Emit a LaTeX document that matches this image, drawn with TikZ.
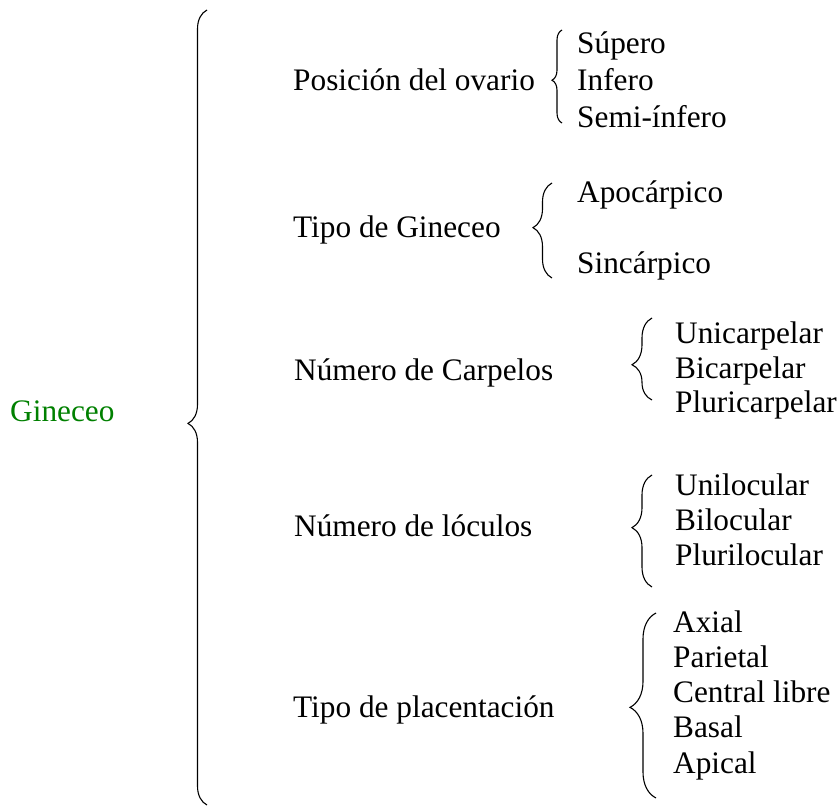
\documentclass[tikz,border=0pt]{standalone}
\usepackage{fontspec}
\setmainfont{Liberation Serif}
\usetikzlibrary{decorations.pathreplacing}
\definecolor{ginegreen}{RGB}{0,128,0}

\begin{document}
\begin{tikzpicture}[x=1pt,y=-1pt,font=\fontsize{31.3}{36}\selectfont,
  item/.style={anchor=base west,inner sep=0pt},
  brc/.style n args={2}{decorate,decoration={brace,amplitude=#1,aspect=#2},line width=1.1pt}]
  \useasboundingbox (0,0) rectangle (838,811);
  % main entry and its brace
  \node[item,text=ginegreen] (gin) at (10,421) {Gineceo};
  \coordinate (gbot) at (207,805);
  \coordinate (gtop) at (207,10);
  \draw[brc={19}{0.48}] (gbot) -- (gtop);
  % second level
  \node[item] (pos) at (293,90) {Posición del ovario};
  \node[item] (tipo) at (293,237) {Tipo de Gineceo};
  \node[item] (ncar) at (294,380) {Número de Carpelos};
  \node[item] (nloc) at (294,536) {Número de lóculos};
  \node[item] (plac) at (293,717) {Tipo de placentación};
  % third level
  \foreach \y/\txt [count=\i] in {53/Súpero,90/Infero,127/Semi-ínfero}
    \node[item] (pos\i) at (577,\y) {\txt};
  \foreach \y/\txt [count=\i] in {202/Apocárpico,273/Sincárpico}
    \node[item] (tipo\i) at (577,\y) {\txt};
  \foreach \y/\txt [count=\i] in {343/Unicarpelar,378/Bicarpelar,412/Pluricarpelar}
    \node[item] (ncar\i) at (675,\y) {\txt};
  \foreach \y/\txt [count=\i] in {495/Unilocular,530/Bilocular,565/Plurilocular}
    \node[item] (nloc\i) at (675,\y) {\txt};
  \foreach \y/\txt [count=\i] in {632/Axial,667/Parietal,702/Central libre,737/Basal,773/Apical}
    \node[item] (plac\i) at (673,\y) {\txt};
  % small braces
  \coordinate (b1s) at (562,123); \coordinate (b1e) at (562,30);
  \coordinate (b2s) at (552,278); \coordinate (b2e) at (552,183);
  \coordinate (b3s) at (652,400); \coordinate (b3e) at (652,318);
  \coordinate (b4s) at (652,587); \coordinate (b4e) at (652,475);
  \coordinate (b5s) at (656,798); \coordinate (b5e) at (656,613);
  \draw[brc={10}{0.46}] (b1s) -- (b1e);
  \draw[brc={19}{0.53}] (b2s) -- (b2e);
  \draw[brc={20}{0.43}] (b3s) -- (b3e);
  \draw[brc={20}{0.53}] (b4s) -- (b4e);
  \draw[brc={26}{0.49}] (b5s) -- (b5e);
\end{tikzpicture}
\end{document}
